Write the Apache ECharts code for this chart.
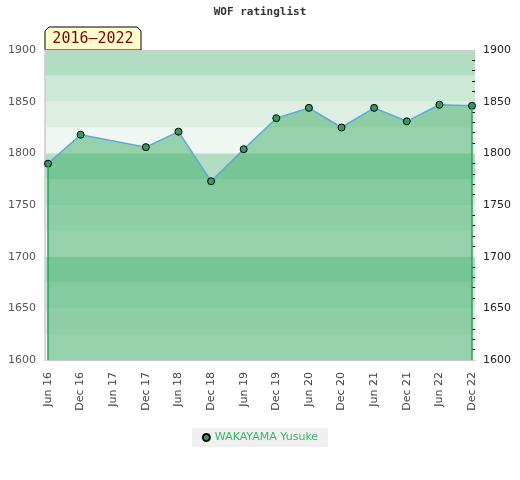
<!DOCTYPE html>
<html>
<head>
<meta charset="utf-8">
<script src="https://cdn.jsdelivr.net/npm/echarts@6/dist/echarts.min.js"></script>
<style>
  html, body { margin: 0; padding: 0; background: #fff; }
  #main { width: 520px; height: 480px; }
</style>
</head>
<body>
<div id="main"></div>
<script>
// data
var cats = ['Jun 16', 'Dec 16', 'Jun 17', 'Dec 17', 'Jun 18', 'Dec 18', 'Jun 19',
            'Dec 19', 'Jun 20', 'Dec 20', 'Jun 21', 'Dec 21', 'Jun 22', 'Dec 22'];
var rating = [1790, 1818, null, 1806, 1821, 1773, 1804,
              1834, 1844, 1825, 1844, 1831, 1847, 1846];
var playerName = 'WAKAYAMA Yusuke';
var periodLabel = '2016\u20132022';
var yMin = 1600, yMax = 1900;

var myChart = echarts.init(document.getElementById('main'));
var last = cats.length - 1;

var option = {
    animation: false,
    title: {
        text: 'WOF ratinglist',
        left: 'center',
        top: 2,
        textStyle: { fontFamily: 'DejaVu Sans Mono', fontSize: 11, fontWeight: 'bold', color: '#333' }
    },
    legend: {
        bottom: 33,
        left: 'center',
        backgroundColor: '#f0f0f0',
        padding: [4, 10],
        itemWidth: 7,
        itemHeight: 7,
        itemGap: 6,
        icon: 'circle',
        textStyle: { fontFamily: 'DejaVu Sans', fontSize: 11, color: '#3cb36a' },
        data: [playerName]
    },
    grid: [
        // background grid (bands and frame)
        { left: 45, right: 45, top: 50, bottom: 120 },
        // data grid
        { left: 48, right: 48, top: 50, bottom: 120 }
    ],
    xAxis: [
        { gridIndex: 0, type: 'value', min: 0, max: 1, position: 'bottom',
          axisLine: { show: true, lineStyle: { color: '#cccccc' } },
          axisTick: { show: false }, axisLabel: { show: false }, splitLine: { show: false } },
        { gridIndex: 0, type: 'value', min: 0, max: 1, position: 'top',
          axisLine: { show: true, lineStyle: { color: '#cccccc' } },
          axisTick: { show: false }, axisLabel: { show: false }, splitLine: { show: false } },
        { gridIndex: 1, type: 'category', data: cats, boundaryGap: false,
          axisLine: { show: false }, axisTick: { show: false }, splitLine: { show: false },
          axisLabel: { interval: 0, rotate: 90, margin: 12, fontFamily: 'DejaVu Sans', fontSize: 11, color: '#444' } }
    ],
    yAxis: [
        { gridIndex: 0, type: 'value', min: yMin, max: yMax, interval: 25, position: 'left',
          axisLine: { show: true, lineStyle: { color: '#cccccc', width: 1.5 } },
          axisTick: { show: false },
          minorTick: { show: false },
          axisLabel: { margin: 9, fontFamily: 'DejaVu Sans', fontSize: 11, color: '#555',
                       formatter: function (v) { return v % 50 === 0 ? String(v) : ''; } },
          splitLine: { show: false },
          splitArea: { show: true, areaStyle: { color: ['#eef7f1', '#deeee3', '#cce8d6', '#b3ddc2'] } } },
        { gridIndex: 1, type: 'value', min: yMin, max: yMax, interval: 50, position: 'right',
          axisLine: { show: false, onZero: false },
          axisTick: { show: true, length: 3, lineStyle: { color: 'rgba(0,0,0,0)' } },
          minorTick: { show: true, splitNumber: 5, length: 3, lineStyle: { color: '#000' } },
          axisLabel: { margin: 11, fontFamily: 'DejaVu Sans', fontSize: 11, color: '#222',
                       formatter: function (v) { return String(v); } },
          splitLine: { show: false } }
    ],
    series: [{
        name: playerName,
        type: 'line',
        xAxisIndex: 2,
        yAxisIndex: 1,
        data: rating,
        connectNulls: true,
        symbol: 'circle',
        symbolSize: 7,
        itemStyle: { color: '#2e9e5b', borderColor: '#000', borderWidth: 1 },
        lineStyle: { color: '#5fa8d8', width: 1.5 },
        areaStyle: { color: 'rgb(60,173,104)', opacity: 0.5, origin: 'start' },
        markLine: {
            silent: true,
            symbol: 'none',
            label: { show: false },
            lineStyle: { color: '#2da05a', width: 1.5, type: 'solid' },
            data: [
                [{ coord: [0, rating[0]] }, { coord: [0, yMin] }],
                [{ coord: [last, rating[last]] }, { coord: [last, yMin] }]
            ]
        },
        z: 3
    }],
    graphic: [{
        type: 'group',
        z: 100,
        children: [{
            type: 'polygon',
            shape: { points: [[45, 50], [45, 31], [49, 27], [137, 27], [141, 31], [141, 50]] },
            style: { fill: '#ffffcc', stroke: '#000', lineWidth: 1 }
        }, {
            type: 'text',
            x: 93, y: 39,
            style: { text: periodLabel, fill: '#800000', font: '15px "DejaVu Sans Mono"',
                     align: 'center', verticalAlign: 'middle' }
        }]
    }]
};

myChart.setOption(option);
</script>
</body>
</html>
